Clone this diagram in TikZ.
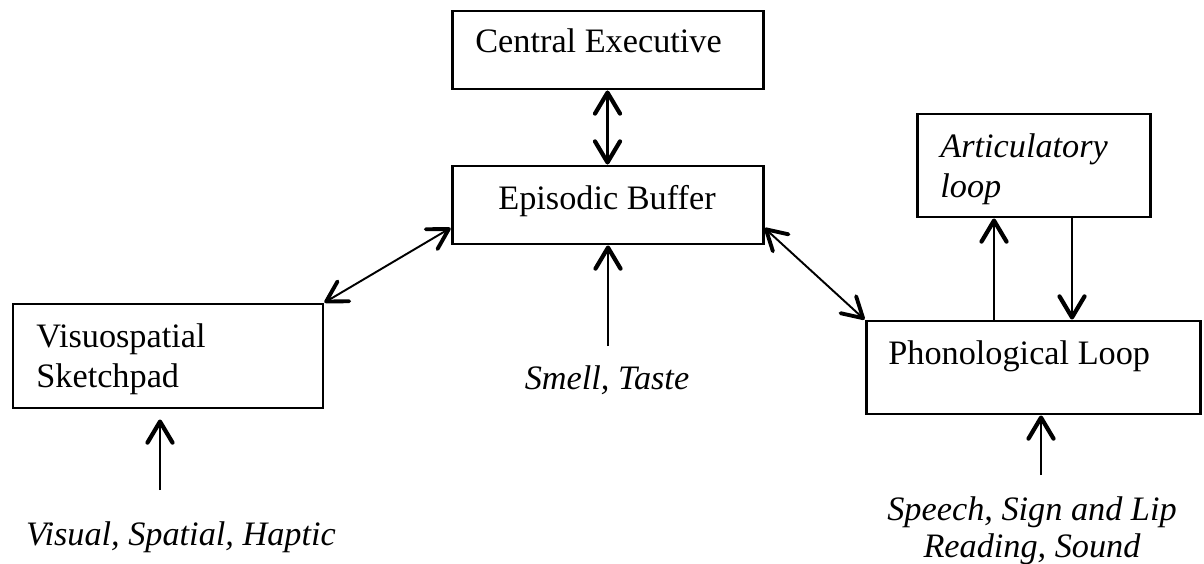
\documentclass[tikz,border=0pt]{standalone}
\usepackage{fontspec}
\setmainfont{Liberation Serif}
\usetikzlibrary{arrows.meta}
\newcommand{\memSize}{\fontsize{19.5}{22.5}\selectfont}
\tikzset{
  memBox/.style={draw, line width=1.7pt, minimum width=#1, inner sep=0pt},
  boxText/.style={anchor=base west, inner sep=0pt, align=left, font=\memSize},
  inputText/.style={anchor=base, inner sep=0pt, align=center, font=\memSize\itshape},
  inArrow/.style={-{Straight Barb[length=4.2mm, width=5mm, line width=2.4pt, round]}, line width=1.5pt},
  biArrow/.style={{Straight Barb[length=4.2mm, width=5mm, line width=2.4pt, round]}-{Straight Barb[length=4.2mm, width=5mm, line width=2.4pt, round]}, line width=1.5pt},
  thinBiArrow/.style={{Straight Barb[length=4mm, width=4.6mm, line width=2.2pt, round]}-{Straight Barb[length=4mm, width=4.6mm, line width=2.2pt, round]}, line width=1.1pt}
}

\begin{document}
\begin{tikzpicture}
  \useasboundingbox (0,0) rectangle (24.08,-11.26);

  % Kaestchen
  \node[memBox=6.22cm, minimum height=1.56cm] (ce) at (12.15,-1.00) {};
  \node[memBox=6.22cm, minimum height=1.56cm] (eb) at (12.15,-4.10) {};
  \node[memBox=6.20cm, minimum height=2.08cm] (vs) at (3.36,-7.12) {};
  \node[memBox=4.66cm, minimum height=2.06cm] (art) at (20.67,-3.31) {};
  \node[memBox=6.68cm, minimum height=1.86cm] (ph) at (20.66,-7.35) {};

  % Beschriftungen in den Kaestchen (base = letzte Zeile)
  \node[boxText] (ceText) at (9.50,-1.06) {Central Executive};
  \node[boxText] (ebText) at (9.96,-4.18) {Episodic Buffer};
  \node[boxText] (vsText) at (0.72,-7.74) {Visuospatial\\Sketchpad};
  \node[boxText, font=\memSize\itshape] (artText) at (18.80,-3.94) {Articulatory\\loop};
  \node[boxText] (phText) at (17.76,-7.28) {Phonological Loop};

  % Eingaenge
  \node[inputText] (smell) at (12.14,-7.78) {Smell, Taste};
  \node[inputText] (visual) at (3.62,-10.90) {Visual, Spatial, Haptic};
  \node[inputText, font=\fontsize{19.5}{21}\selectfont\itshape] (speech) at (20.64,-11.14) {Speech, Sign and Lip\\Reading, Sound};

  % Hilfspunkte
  \coordinate (smellTail) at (12.16,-6.92);
  \coordinate (vsTail) at (3.20,-9.80);
  \coordinate (phTail) at (20.82,-9.50);
  \coordinate (loopUp) at (19.88,0);
  \coordinate (loopDown) at (21.44,0);

  % Verbindungen
  \draw[biArrow] (ce) -- (eb);
  \draw[inArrow] (smellTail) -- (smellTail |- eb.south);
  \draw[thinBiArrow] (vs.north east) -- ([yshift=-0.46cm]eb.west);
  \draw[thinBiArrow] ([yshift=-0.46cm]eb.east) -- (ph.north west);
  \draw[inArrow, shorten >=0.2cm] (vsTail) -- (vsTail |- vs.south);
  \draw[inArrow] (phTail) -- (phTail |- ph.south);
  \draw[inArrow] (loopUp |- ph.north) -- (loopUp |- art.south);
  \draw[inArrow] (loopDown |- art.south) -- (loopDown |- ph.north);
\end{tikzpicture}
\end{document}
